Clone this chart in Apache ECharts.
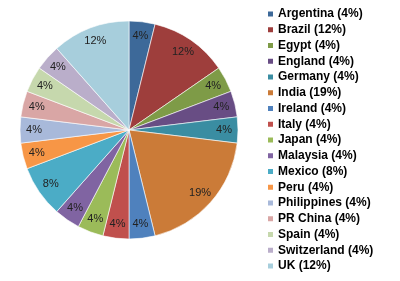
<!DOCTYPE html>
<html><head><meta charset="utf-8">
<script src="https://cdn.jsdelivr.net/npm/echarts@6/dist/echarts.min.js"></script>
<style>html,body{margin:0;padding:0;background:#fff}#c{width:400px;height:281px}</style>
</head><body><div id="c"></div>
<script>
const categories = ["Argentina","Brazil","Egypt","England","Germany","India","Ireland","Italy","Japan","Malaysia","Mexico","Peru","Philippines","PR China","Spain","Switzerland","UK"];
const values = [1,3,1,1,1,5,1,1,1,1,2,1,1,1,1,1,3];
const percentLabels = ["4%","12%","4%","4%","4%","19%","4%","4%","4%","4%","8%","4%","4%","4%","4%","4%","12%"];
const colors = ["#3D6999","#9E3E3C","#7E9B47","#684D84","#3A8DA2","#CB7B38","#4F81BD","#C0504D","#9BBB59","#8064A2","#4BACC6","#F79646","#A8B9DA","#D9A6A5","#C6D8AD","#BAAECA","#A7CEDC"];

const data = categories.map((n,i)=>({name:n,value:values[i]}));
const chart = echarts.init(document.getElementById('c'));
chart.setOption({
  animation:false,
  color: colors,
  legend:{
    orient:'vertical', left:266, top:8, padding:0,
    itemWidth:7, itemHeight:7, itemGap:3.75,
    icon:'rect',
    data: categories,
    formatter: function(name){ const i=categories.indexOf(name); return name+' ('+percentLabels[i]+')'; },
    textStyle:{fontFamily:'Liberation Sans', fontWeight:'bold', fontSize:12, color:'#000', lineHeight:12, padding:[0,0,0,-1]}
  },
  series:[{
    type:'pie', center:[129,130], radius:[0,109], startAngle:90, clockwise:true,
    data:data, silent:true,
    itemStyle:{borderColor:'#fff', borderWidth:0.6},
    label:{show:false}, labelLine:{show:false}
  },{
    type:'pie', center:[129,130], radius:[75,109], startAngle:90, clockwise:true,
    data:data, silent:true,
    itemStyle:{color:'rgba(0,0,0,0)'},
    label:{show:true, position:'inside', formatter:p=>percentLabels[p.dataIndex], fontFamily:'Liberation Sans', fontSize:11, color:'#222'},
    labelLine:{show:false}
  }]
});
</script></body></html>
